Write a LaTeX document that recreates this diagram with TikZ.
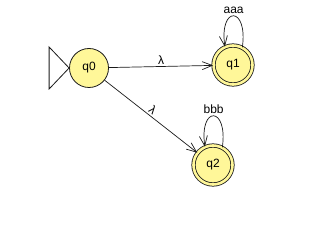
\documentclass[tikz,border=0pt]{standalone}
\usepackage{fontspec}
\setmainfont{Liberation Sans}
\usetikzlibrary{arrows.meta}
\definecolor{fsmFill}{HTML}{FFF799}
\definecolor{fsmLine}{HTML}{1A1A1A}

\begin{document}
\begin{tikzpicture}[x=1pt, y=1pt, font=\fontsize{12}{14}\selectfont,
    stateNode/.style={circle, draw=fsmLine, line width=0.8pt, fill=fsmFill, minimum size=39pt, inner sep=0pt},
    acceptNode/.style={stateNode, double=fsmFill, double distance=2.6pt},
    transEdge/.style={draw=fsmLine, line width=0.7pt, -{Straight Barb[length=10pt, width=8pt]}},
    transLabel/.style={inner sep=1.5pt}]
  \useasboundingbox (0,0) rectangle (328,224);
  % States
  \node[stateNode] (q0) at (89,156) {q0};
  \node[acceptNode] (q1) at (233,159) {q1};
  \node[acceptNode] (q2) at (213,59) {q2};
  % Start marker
  \draw[fsmLine, line width=0.8pt] (q0.west) -- ++(-20,21) -- ++(0,-42) -- cycle;
  % Transitions
  \draw[transEdge] (q0) -- node[transLabel, above] {λ} (q1);
  \draw[transEdge] (q0) -- node[transLabel, above, sloped, pos=0.48] {λ} (q2);
  \draw[transEdge] (q1.62) .. controls +(82:42) and +(98:42) .. node[transLabel, above] {aaa} (q1.114);
  \draw[transEdge] (q2.62) .. controls +(82:42) and +(98:42) .. node[transLabel, above] {bbb} (q2.114);
\end{tikzpicture}
\end{document}
